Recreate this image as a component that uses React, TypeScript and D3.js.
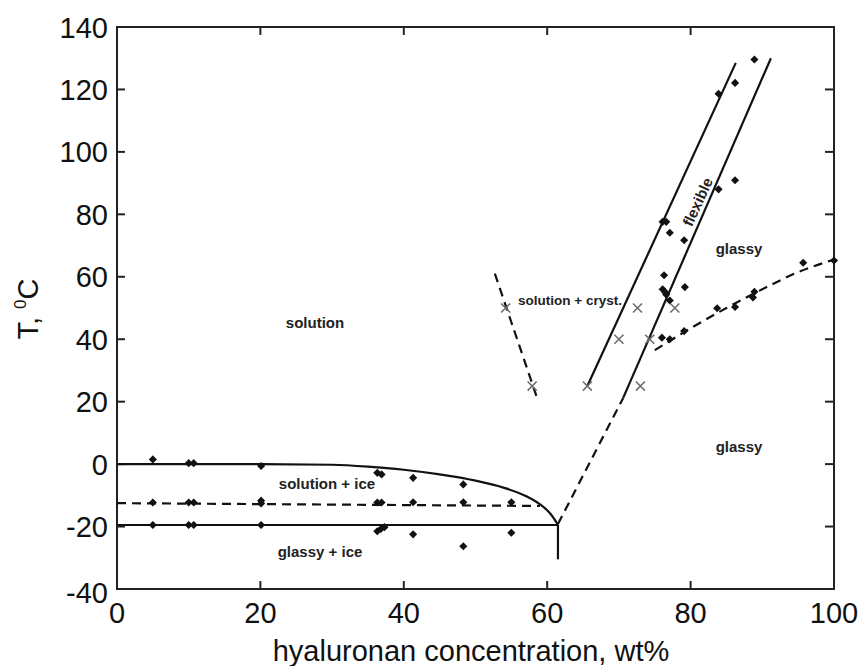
import React from "react";
import * as d3 from "d3";

const W = 862;
const H = 666;

const xTicks = [0, 20, 40, 60, 80, 100];
const yTicks = [-40, -20, 0, 20, 40, 60, 80, 100, 120, 140];

// experimental points (diamonds)
const diamondsX = [
  5, 10, 10.7, 20.1,
  5, 10, 10.7, 20.1, 20.1,
  5, 10, 10.7, 20.1,
  36.3, 36.9, 41.3, 48.3,
  36.3, 36.9, 41.3, 48.3, 55,
  36.3, 36.8, 37.3, 41.3, 48.3, 55,
  76.1, 76.6, 77.1, 79.1,
  76.3, 76.1, 76.4, 76.6, 79.2, 77.1,
  76, 77.1, 79.1,
  83.7, 86.2, 88.9, 88.7, 95.7, 100,
  88.9, 86.2, 83.9, 86.2, 83.9,
];
const diamondsT = [
  1.5, 0.3, 0.3, -0.6,
  -12.3, -12.3, -12.3, -11.7, -12.6,
  -19.5, -19.5, -19.5, -19.5,
  -2.8, -3.3, -4.4, -6.5,
  -12.3, -12.3, -12.2, -12.2, -12.2,
  -21.5, -20.8, -20.2, -22.5, -26.3, -22,
  77.6, 77.6, 74.1, 71.7,
  60.5, 56, 55.2, 54.3, 56.7, 52.4,
  40.5, 40, 42.6,
  49.9, 50.3, 55.2, 53.4, 64.5, 65.2,
  129.6, 122.1, 118.6, 90.9, 88,
];

// crystallisation / transition points (crosses)
const crossesX = [54.2, 57.9, 65.6, 70, 72.6, 74.3, 73, 77.8];
const crossesT = [50, 25, 25, 40, 50, 40, 25, 50];

// phase boundaries
const liquidusX = [0, 20, 30, 35, 40, 45, 50, 54, 57, 59, 60.3, 61, 61.5];
const liquidusT = [0, 0, -0.2, -0.8, -1.8, -3.3, -5.3, -7.6, -10.2, -12.9, -15.5, -17.6, -19.5];

const dashIceX = [0, 59];
const dashIceT = [-12.5, -13.4];

const glassIceX = [0, 61.5];
const glassIceT = [-19.5, -19.5];

const vertX = [61.5, 61.5];
const vertT = [-19.5, -30.5];

const crystX = [52.7, 58.5];
const crystT = [61, 21.8];

const flex1X = [65.6, 86.3];
const flex1T = [25, 128.5];

const tgDashX = [61.5, 70.6];
const tgDashT = [-19.2, 21.2];

const flex2X = [70.6, 91.2];
const flex2T = [21.2, 130];

const tg2X = [75, 80, 85, 90, 95, 100];
const tg2T = [36.5, 43.5, 50, 56, 61.5, 65.5];

const zip = (a: number[], b: number[]) => a.map((v, i) => [v, b[i]] as [number, number]);

export default function App() {
  const x = d3.scaleLinear().domain([0, 100]).range([117, 834]);
  const y = d3.scaleLinear().domain([-40, 140]).range([589, 27]);

  const line = d3
    .line<[number, number]>()
    .x((d) => x(d[0]))
    .y((d) => y(d[1]));
  const curve = d3
    .line<[number, number]>()
    .x((d) => x(d[0]))
    .y((d) => y(d[1]))
    .curve(d3.curveMonotoneX);

  const diamond = d3.symbol().type(d3.symbolDiamond2).size(42)();
  const times = d3.symbol().type(d3.symbolTimes).size(55)();

  const lineColor = "#111";
  const dash = "9,6";
  const font = "'Liberation Sans', Arial, sans-serif";

  const [x0, x1] = x.range();
  const [y0, y1] = y.range();

  const flexAngle =
    (Math.atan2(y(flex1T[1]) - y(flex1T[0]), x(flex1X[1]) - x(flex1X[0])) * 180) / Math.PI;

  return (
    <svg
      width={W}
      height={H}
      style={{ position: "absolute", left: 0, top: 0, background: "#fff" }}
      fontFamily={font}
    >
      <rect x={0} y={0} width={W} height={H} fill="#fff" />

      {/* frame */}
      <rect
        x={x0}
        y={y1}
        width={x1 - x0}
        height={y0 - y1}
        fill="none"
        stroke="#222"
        strokeWidth={2}
      />

      {/* ticks */}
      {xTicks.slice(1, -1).map((t) => (
        <g key={"xt" + t}>
          <line x1={x(t)} x2={x(t)} y1={y0} y2={y0 - 8} stroke="#222" strokeWidth={2} />
          <line x1={x(t)} x2={x(t)} y1={y1} y2={y1 + 8} stroke="#222" strokeWidth={2} />
        </g>
      ))}
      {yTicks.slice(1, -1).map((t) => (
        <g key={"yt" + t}>
          <line x1={x0} x2={x0 + 8} y1={y(t)} y2={y(t)} stroke="#222" strokeWidth={2} />
          <line x1={x1} x2={x1 - 9} y1={y(t)} y2={y(t)} stroke="#222" strokeWidth={2} />
        </g>
      ))}

      {/* tick labels */}
      {xTicks.map((t) => (
        <text key={"xl" + t} x={x(t)} y={623} textAnchor="middle" fontSize={29} fill="#111">
          {t}
        </text>
      ))}
      {yTicks.map((t) => (
        <text
          key={"yl" + t}
          x={108}
          y={y(t) + 10.5 + (t === -40 ? 3 : 0)}
          textAnchor="end"
          fontSize={29}
          fill="#111"
        >
          {t}
        </text>
      ))}

      {/* axis titles */}
      <text x={471} y={661} textAnchor="middle" fontSize={29} fill="#111">
        hyaluronan concentration, wt%
      </text>
      <text
        transform="translate(38,309) rotate(-90)"
        textAnchor="middle"
        fontSize={29}
        fill="#111"
      >
        T,{" "}
        <tspan fontSize={17} dy={-12}>
          0
        </tspan>
        <tspan dy={12}>C</tspan>
      </text>

      {/* boundaries */}
      <path d={curve(zip(liquidusX, liquidusT)) || ""} fill="none" stroke={lineColor} strokeWidth={2.2} />
      <path d={line(zip(dashIceX, dashIceT)) || ""} fill="none" stroke={lineColor} strokeWidth={2.2} strokeDasharray={dash} />
      <path d={line(zip(glassIceX, glassIceT)) || ""} fill="none" stroke={lineColor} strokeWidth={2.2} />
      <path d={line(zip(vertX, vertT)) || ""} fill="none" stroke={lineColor} strokeWidth={2.2} />
      <path d={line(zip(crystX, crystT)) || ""} fill="none" stroke={lineColor} strokeWidth={2.2} strokeDasharray={dash} />
      <path d={line(zip(flex1X, flex1T)) || ""} fill="none" stroke={lineColor} strokeWidth={2.2} />
      <path d={line(zip(tgDashX, tgDashT)) || ""} fill="none" stroke={lineColor} strokeWidth={2.2} strokeDasharray={dash} />
      <path d={line(zip(flex2X, flex2T)) || ""} fill="none" stroke={lineColor} strokeWidth={2.2} />
      <path d={curve(zip(tg2X, tg2T)) || ""} fill="none" stroke={lineColor} strokeWidth={2.2} strokeDasharray={dash} />

      {/* markers */}
      {diamondsX.map((v, i) => (
        <path
          key={"d" + i}
          d={diamond || ""}
          transform={`translate(${x(v)},${y(diamondsT[i])})`}
          fill="#111"
        />
      ))}
      {crossesX.map((v, i) => (
        <path
          key={"c" + i}
          d={times || ""}
          transform={`translate(${x(v)},${y(crossesT[i])})`}
          fill="none"
          stroke="#6e6e6e"
          strokeWidth={1.6}
        />
      ))}

      {/* region labels */}
      <g fontWeight="bold" fill="#222" fontSize={15}>
        <text x={315} y={328} textAnchor="middle">solution</text>
        <text x={327} y={489} textAnchor="middle">solution + ice</text>
        <text x={320} y={557} textAnchor="middle">glassy + ice</text>
        <text x={570} y={305} textAnchor="middle" fontSize={13.5}>solution + cryst.</text>
        <text x={739} y={254} textAnchor="middle">glassy</text>
        <text x={739} y={452} textAnchor="middle">glassy</text>
        <text
          transform={`translate(698,202) rotate(${flexAngle})`}
          textAnchor="middle"
          dy={5}
        >
          flexible
        </text>
      </g>
    </svg>
  );
}
